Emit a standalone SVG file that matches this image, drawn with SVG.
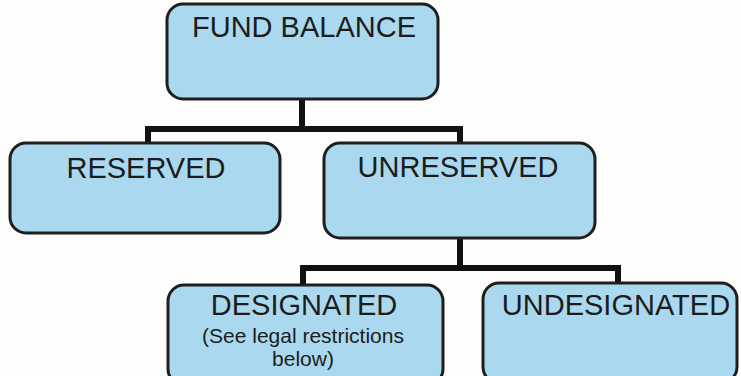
<svg xmlns="http://www.w3.org/2000/svg" width="741" height="376" viewBox="0 0 741 376">
<style>
.box{fill:#aad9ef;stroke:#1e1e1e;stroke-width:3}
.t{font-family:"Liberation Sans",Arial,sans-serif;font-size:29px;fill:#1c1c1c;text-anchor:middle}
.s{font-family:"Liberation Sans",Arial,sans-serif;font-size:21px;fill:#1c1c1c;text-anchor:middle}
.c{fill:none;stroke:#111;stroke-width:6;stroke-linejoin:miter}
</style>
<rect width="741" height="376" fill="#fdfdfb"/>
<g id="connectors">
<path class="c" d="M302,99 V129 M148,143 V129 H460 V143"/>
<path class="c" d="M460,238 V268 M303,285 V268 H618 V283"/>
</g>
<g id="fund-balance">
<rect class="box" x="167" y="4" width="271" height="95" rx="16"/>
<text class="t" x="304" y="37">FUND BALANCE</text>
</g>
<g id="reserved">
<rect class="box" x="10" y="143" width="270" height="90" rx="16"/>
<text class="t" x="146" y="178">RESERVED</text>
</g>
<g id="unreserved">
<rect class="box" x="324" y="143" width="271" height="95" rx="16"/>
<text class="t" x="458" y="177">UNRESERVED</text>
</g>
<g id="designated">
<rect class="box" x="168" y="285" width="275" height="100" rx="16"/>
<text class="t" x="304" y="315">DESIGNATED</text>
<text class="s" x="303" y="343">(See legal restrictions</text>
<text class="s" x="303" y="366">below)</text>
</g>
<g id="undesignated">
<rect class="box" x="483" y="283" width="254" height="100" rx="16"/>
<text class="t" x="616" y="315">UNDESIGNATED</text>
</g>
</svg>
